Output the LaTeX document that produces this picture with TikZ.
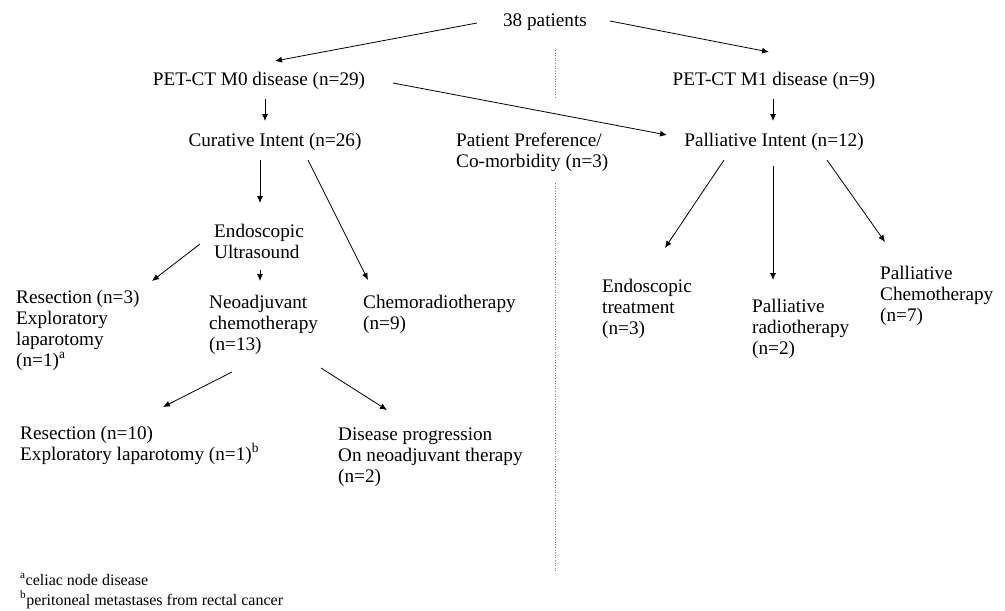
\documentclass[tikz,border=0pt]{standalone}
\usepackage{fontspec}
\setmainfont{Liberation Serif}
\usepackage{tikz}
\usetikzlibrary{arrows.meta}

\begin{document}
\begin{tikzpicture}[x=1pt, y=-1pt]
    \tikzstyle{lbl} = [inner sep=0pt, align=left, font=\fontsize{19.2}{21}\selectfont]
    \tikzstyle{note} = [inner sep=0pt, align=left, font=\fontsize{16}{20}\selectfont]
    \tikzstyle{flow} = [line width=0.8pt, -{Latex[length=7pt,width=6pt]}]
    \tikzstyle{divider} = [gray, dotted, line width=0.6pt]
    \useasboundingbox (0,0) rectangle (1005,611);

    % top levels (anchored on the baseline of the last line)
    \node[lbl, anchor=base] (pat) at (545,26) {38 patients};
    \node[lbl, anchor=base] (m0) at (259,85) {PET-CT M0 disease (n=29)};
    \node[lbl, anchor=base] (m1) at (774,85) {PET-CT M1 disease (n=9)};
    \node[lbl, anchor=base] (cur) at (275,146) {Curative Intent (n=26)};
    \node[lbl, anchor=base] (pal) at (774,146) {Palliative Intent (n=12)};
    \node[lbl, anchor=base west] (pref) at (456,167) {Patient Preference/\\Co-morbidity (n=3)};

    % curative branch
    \node[lbl, anchor=base west] (eus) at (214,258) {Endoscopic\\Ultrasound};
    \node[lbl, anchor=base west] (res1) at (16,366) {Resection (n=3)\\Exploratory\\laparotomy\\(n=1)\textsuperscript{a}};
    \node[lbl, anchor=base west] (neo) at (209,350) {Neoadjuvant\\chemotherapy\\(n=13)};
    \node[lbl, anchor=base west] (crt) at (363,329) {Chemoradiotherapy\\(n=9)};
    \node[lbl, anchor=base west] (res2) at (20,460) {Resection (n=10)\\Exploratory laparotomy (n=1)\textsuperscript{b}};
    \node[lbl, anchor=base west] (prog) at (338,482) {Disease progression\\On neoadjuvant therapy\\(n=2)};

    % palliative branch
    \node[lbl, anchor=base west] (endo) at (602,334) {Endoscopic\\treatment\\(n=3)};
    \node[lbl, anchor=base west] (radio) at (752,354) {Palliative\\radiotherapy\\(n=2)};
    \node[lbl, anchor=base west] (chemo) at (880,321) {Palliative\\Chemotherapy\\(n=7)};

    % footnotes
    \node[note, anchor=base west] (fn) at (20,605) {\textsuperscript{a}celiac node disease\\\textsuperscript{b}peritoneal metastases from rectal cancer};

    % arrows
    \draw[flow] ([shift={(-68,-3)}]pat.base) -- ([shift={(16,-24)}]m0.base);
    \draw[flow] ([shift={(65,-5)}]pat.base) -- ([shift={(-5,-33)}]m1.base);
    \draw[flow] ([shift={(134,-2)}]m0.base) -- ([shift={(-107,-11)}]pal.base);
    \draw[flow] ([shift={(6,14)}]m0.base) -- ([shift={(-10,-25)}]cur.base);
    \draw[flow] ([shift={(-1,14)}]m1.base) -- ([shift={(-1,-25)}]pal.base);
    \draw[flow] ([shift={(-15,14)}]cur.base) -- ([shift={(46,-55)}]eus.base west);
    \draw[flow] ([shift={(33,14)}]cur.base) -- ([shift={(5,-49)}]crt.base west);
    \draw[flow] ([shift={(-14,-14)}]eus.base west) -- ([shift={(136,-85)}]res1.base west);
    \draw[flow] ([shift={(46,12)}]eus.base west) -- ([shift={(51,-69)}]neo.base west);
    \draw[flow] ([shift={(23,22)}]neo.base west) -- ([shift={(143,-53)}]res2.base west);
    \draw[flow] ([shift={(112,18)}]neo.base west) -- ([shift={(49,-72)}]prog.base west);
    \draw[flow] ([shift={(-50,14)}]pal.base) -- ([shift={(63,-86)}]endo.base west);
    \draw[flow] ([shift={(-1,20)}]pal.base) -- ([shift={(21,-74)}]radio.base west);
    \draw[flow] ([shift={(53,14)}]pal.base) -- ([shift={(5,-79)}]chemo.base west);

    % dotted divider
    \coordinate (d1) at (555,50);
    \coordinate (d2) at (555,98);
    \coordinate (d3) at (555,183);
    \coordinate (d4) at (555,573);
    \draw[divider] (d1) -- (d2);
    \draw[divider] (d3) -- (d4);
\end{tikzpicture}
\end{document}
